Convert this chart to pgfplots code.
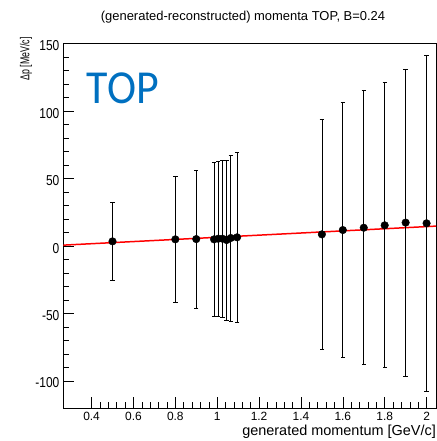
\documentclass[border=0pt]{standalone}
\usepackage{pgfplots}
\pgfplotsset{compat=1.18}
\usepackage{pgfplotstable}
\usepackage{fontspec}
\setmainfont{Liberation Sans}
\newfontfamily\calibrilike{Carlito}
\definecolor{topblue}{HTML}{0070C0}

% generated momentum [GeV/c], mean Delta p [MeV/c], spread [MeV/c]
\pgfplotstableread{
x      y     err
0.50   3.5   29.0
0.80   5.0   46.8
0.90   5.2   51.0
0.985  5.0   57.0
1.005  5.5   57.4
1.025  5.5   58.0
1.045  4.5   59.3
1.065  6.0   61.6
1.095  6.5   62.8
1.50   8.7   85.0
1.60  11.9   94.5
1.70  13.6  101.5
1.80  15.4  105.6
1.90  17.4  113.8
2.00  16.9  124.3
}\resid

\begin{document}
\begin{tikzpicture}
\useasboundingbox (-63.3bp,-33bp) rectangle (373.7bp,408bp);
\begin{axis}[
  scale only axis,
  width=372.7bp, height=364.3bp,
  xmin=0.265, xmax=2.045,
  ymin=-120, ymax=150,
  axis line style={line width=0.8pt},
  tick align=inside,
  xtick pos=lower, ytick pos=left,
  xtick={0.4,0.6,0.8,1,1.2,1.4,1.6,1.8,2},
  ytick={-100,-50,0,50,100,150},
  minor x tick num=4,
  minor y tick num=4,
  major tick length=11bp,
  minor tick length=6bp,
  every tick/.style={black, line width=0.6pt},
  /pgf/number format/assume math mode=true,
  ticklabel style={font=\fontsize{12}{12}\selectfont},
  xticklabel style={anchor=north, inner sep=0pt, yshift=-4bp},
  yticklabel style={anchor=east, inner sep=0pt, xshift=-3.8bp, yshift=-2bp, yscale=1.2},
  clip=true,
]
\addplot[red, line width=1.5pt] coordinates {(0.265,0.7) (2.045,14.8)};
\addplot[black, only marks, mark=*, mark size=3.8bp,
  error bars/.cd, y dir=both, y explicit,
  error bar style={line width=0.7pt, black},
  error mark options={rotate=90, mark size=2.2bp, line width=0.7pt, black}]
  table[x=x, y=y, y error=err] {\resid};
\end{axis}
\node[anchor=base, font=\fontsize{13}{13}\selectfont] at (179.7bp,387bp)
  {(generated-reconstructed) momenta TOP, B=0.24};
\node[anchor=base west, inner sep=0pt, text=topblue, font=\calibrilike\fontsize{44}{44}\selectfont, yscale=1.08]
  at (23.4bp,304.7bp) {TOP};
\node[rotate=90, anchor=base east, inner sep=0pt, font=\fontsize{13}{13}\selectfont]
  at (-34bp,371bp) {\resizebox{43bp}{\height}{Δp [MeV/c]}};
\node[anchor=base east, inner sep=0pt, font=\fontsize{14.5}{14.5}\selectfont] at (372.7bp,-27bp)
  {generated momentum [GeV/c]};
\end{tikzpicture}
\end{document}
